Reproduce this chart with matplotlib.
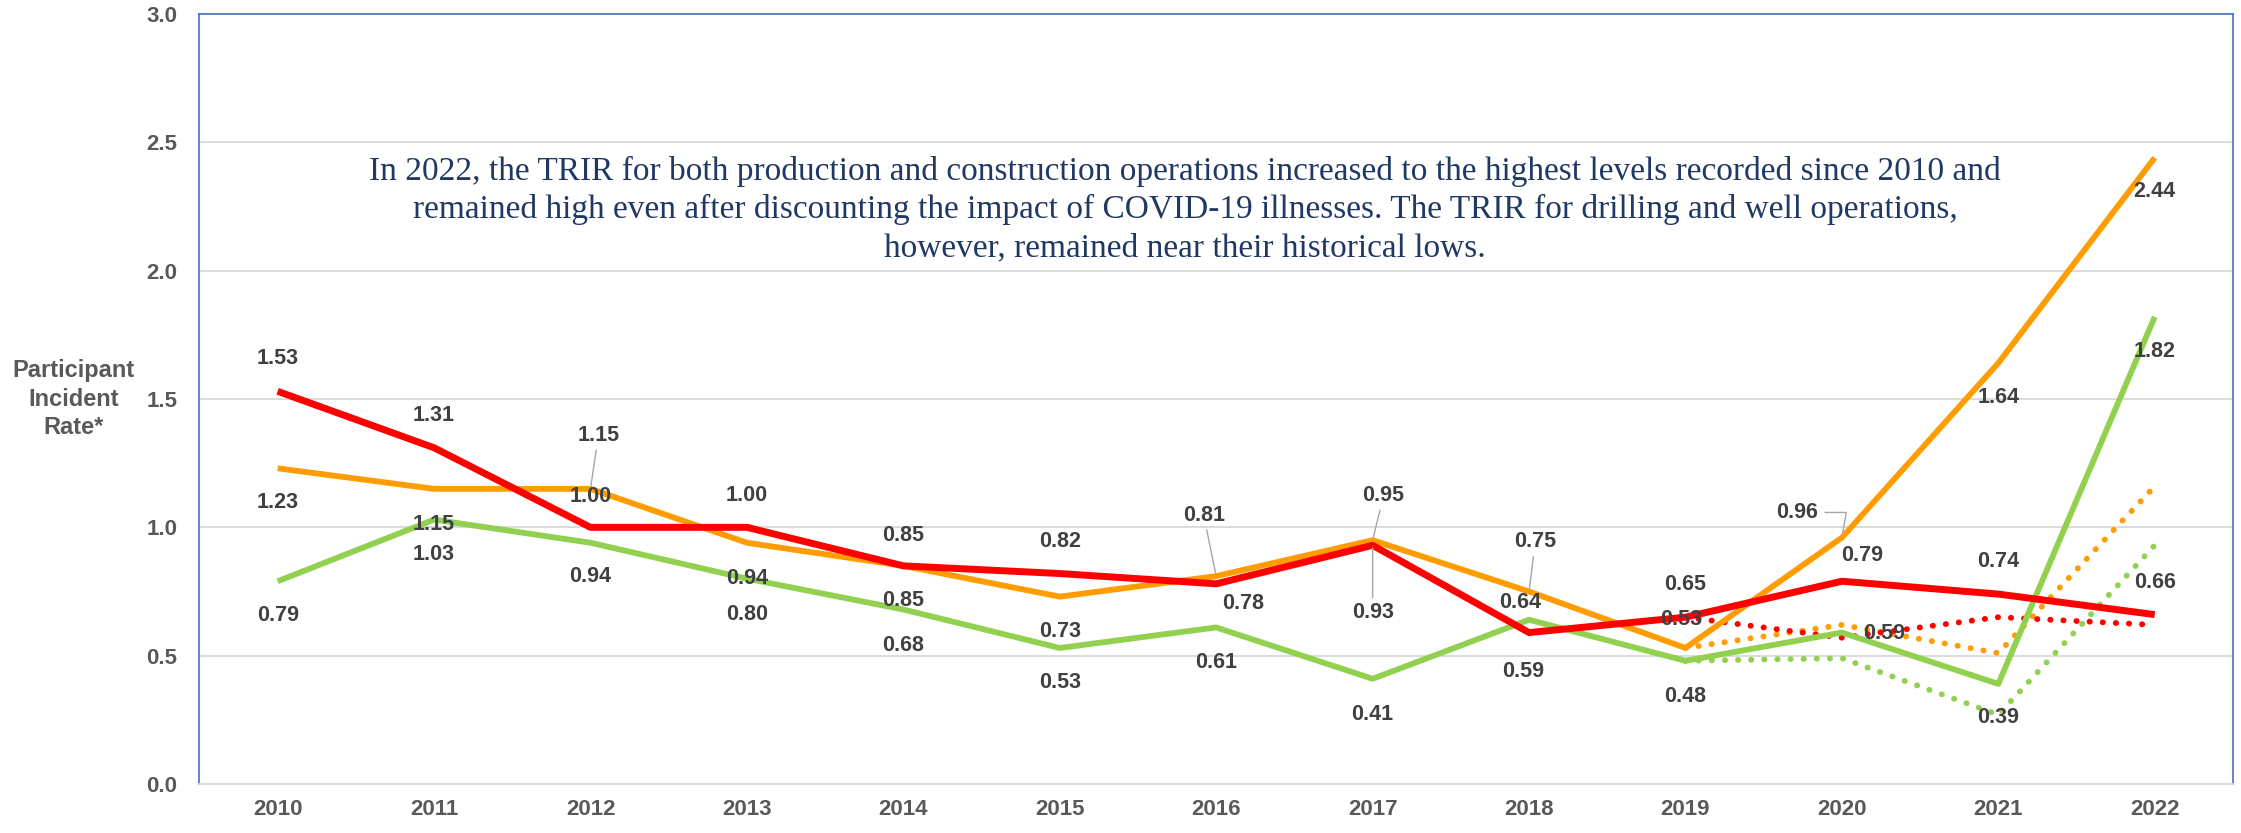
import numpy as np
import matplotlib.pyplot as plt

# rates
years = ["2010", "2011", "2012", "2013", "2014", "2015", "2016",
         "2017", "2018", "2019", "2020", "2021", "2022"]
drilling = [1.53, 1.31, 1.00, 1.00, 0.85, 0.82, 0.78, 0.93, 0.59, 0.65, 0.79, 0.74, 0.66]
production = [1.23, 1.15, 1.15, 0.94, 0.85, 0.73, 0.81, 0.95, 0.75, 0.53, 0.96, 1.64, 2.44]
construction = [0.79, 1.03, 0.94, 0.80, 0.68, 0.53, 0.61, 0.41, 0.64, 0.48, 0.59, 0.39, 1.82]

# excluding COVID-19 illnesses (dotted), 2019-2022
covid_years = ["2019", "2020", "2021", "2022"]
drilling_ex = [0.65, 0.57, 0.65, 0.62]
production_ex = [0.53, 0.62, 0.51, 1.16]
construction_ex = [0.48, 0.49, 0.27, 0.93]

note = ("In 2022, the TRIR for both production and construction operations increased to the highest levels recorded since 2010 and\n"
        "remained high even after discounting the impact of COVID-19 illnesses. The TRIR for drilling and well operations,\n"
        "however, remained near their historical lows.")

RED = "#FF0000"
ORANGE = "#FF9C00"
GREEN = "#92D050"

# label placement: (x shift, label y, leader line?)
red_lab = [(0, 1.656, 0), (0, 1.435, 0), (0, 1.12, 0), (0, 1.124, 0), (0, 0.969, 0),
           (0, 0.943, 0), (0.17, 0.703, 0), (0, 0.668, 1), (-0.04, 0.44, 0),
           (0, 0.776, 0), (0.13, 0.892, 0), (0, 0.865, 0), (0, 0.787, 0)]
orange_lab = [(0, 1.097, 0), (0, 1.01, 0), (0.05, 1.358, 1), (0, 0.80, 0), (0, 0.716, 0),
              (0, 0.593, 0), (-0.08, 1.047, 1), (0.07, 1.124, 1), (0.04, 0.943, 1),
              (-0.03, 0.642, 0), (-0.285, 1.058, 2), (0, 1.507, 0), (0, 2.31, 0)]
green_lab = [(0, 0.658, 0), (0, 0.896, 0), (0, 0.81, 0), (0, 0.66, 0), (0, 0.539, 0),
             (0, 0.396, 0), (0, 0.474, 0), (0, 0.272, 0), (-0.06, 0.707, 0),
             (0, 0.342, 0), (0.27, 0.586, 0), (0, 0.259, 0), (0, 1.687, 0)]

plt.rcParams['font.family'] = ['Liberation Sans', 'DejaVu Sans']

fig = plt.figure(figsize=(22.41, 8.33), dpi=100)
ax = fig.add_axes([0.089, 0.0588, 0.9074, 0.9244])
x = np.arange(len(years))
xc = np.arange(len(years) - len(covid_years), len(years))

dot = dict(lw=4.2, linestyle=(0, (0.05, 2.2)), dash_capstyle='round')
ax.plot(xc, construction_ex, color=GREEN, **dot)
ax.plot(xc, production_ex, color=ORANGE, **dot)
ax.plot(xc, drilling_ex, color=RED, **dot)

ax.plot(x, construction, color=GREEN, lw=4.2, solid_capstyle='butt')
ax.plot(x, production, color=ORANGE, lw=4.2, solid_capstyle='butt')
ax.plot(x, drilling, color=RED, lw=5, solid_capstyle='butt')

for vals, labs in [(drilling, red_lab), (production, orange_lab), (construction, green_lab)]:
    for i, (v, (dx, ly, lead)) in enumerate(zip(vals, labs)):
        arrow = None
        if lead == 1:
            arrow = dict(arrowstyle='-', color='#A6A6A6', lw=1, shrinkA=1, shrinkB=2)
        elif lead == 2:
            arrow = dict(arrowstyle='-', color='#A6A6A6', lw=1, shrinkA=3, shrinkB=3,
                         connectionstyle='angle,angleA=0,angleB=80,rad=0')
        ax.annotate(f"{v:.2f}", xy=(i, v), xytext=(i + dx, ly), ha='center', va='center',
                    fontsize=15.5, fontweight='bold', color='#404040', arrowprops=arrow)

ax.text(5.80, 2.238, note, ha='center', va='center', fontsize=24, color='#203864',
        family=['Liberation Serif', 'DejaVu Serif'], linespacing=1.3)

fig.text(74 / 2241, 1 - 399 / 833, "Participant\nIncident\nRate*", ha='center', va='center',
         multialignment='center', fontsize=17, fontweight='bold', color='#595959',
         linespacing=1.3)

ax.set_xlim(-0.5, len(years) - 0.5)
ax.set_ylim(0, 3.0)
ax.set_xticks(x)
ax.set_xticklabels(years)
ax.set_yticks(np.arange(0, 3.01, 0.5))
ax.yaxis.set_major_formatter('{x:.1f}')
ax.tick_params(length=0, labelsize=16, labelcolor='#595959')
ax.tick_params(axis='y', pad=16)
ax.tick_params(axis='x', pad=11)
for t in ax.get_xticklabels() + ax.get_yticklabels():
    t.set_fontweight('bold')

ax.yaxis.grid(True, color='#D9D9D9', lw=1.3)
ax.set_axisbelow(True)
for s in ['left', 'top', 'right']:
    ax.spines[s].set_color('#4472C4')
    ax.spines[s].set_linewidth(1.2)
ax.spines['bottom'].set_color('#D9D9D9')
ax.spines['bottom'].set_linewidth(1.3)

fig.savefig("out.png", dpi=100)
